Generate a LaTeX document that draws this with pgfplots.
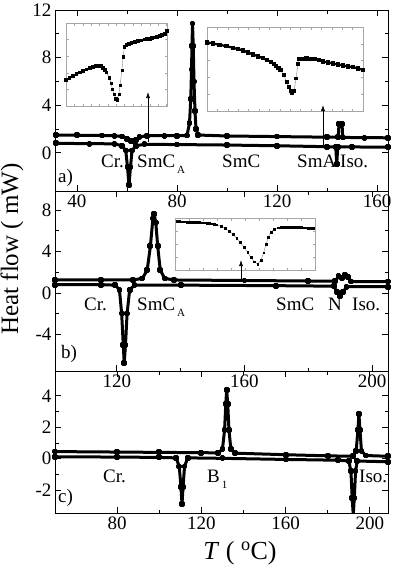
\documentclass[border=0pt]{standalone}
\usepackage{fontspec}
\setmainfont{Liberation Serif}
\usepackage{pgfplots}
\pgfplotsset{compat=1.18}
\usetikzlibrary{arrows.meta}

\newcommand\fs{\fontsize{19}{19}\selectfont}
\newcommand\sub[1]{\hspace{2pt}\raisebox{-6pt}{\fontsize{11}{11}\selectfont #1}}

\pgfplotsset{
  panel/.style={
    scale only axis, width=333pt, anchor=north west,
    axis line style={line width=1pt},
    tick style={black, line width=0.8pt},
    tick align=inside, major tick length=6pt, minor tick length=3.5pt,
    xtick pos=both, ytick pos=both,
    xticklabel pos=lower, yticklabel pos=left,
    minor x tick num=1, minor y tick num=1,
    tick label style={font=\fs},
    /pgf/number format/assume math mode=true,
  },
  curve/.style={black, line width=3pt, line join=round, mark=square*, mark size=1.4pt},
  inset/.style={
    scale only axis, anchor=north west, clip=false,
    xmin=0, xmax=1, ymin=0, ymax=1,
    axis line style={gray!70, line width=0.5pt},
    tick style={gray!70, line width=0.4pt},
    tick align=inside, major tick length=2.5pt,
    xtick pos=both, ytick pos=both,
    xticklabels={}, yticklabels={},
    ytick distance=0.2,
  },
  dense/.style={black, line width=1.5pt, mark=square*, mark size=1.1pt},
  sparse/.style={gray, line width=0.4pt, mark=square*, mark options={black}, mark size=1.1pt},
}

\begin{document}
\begin{tikzpicture}
\useasboundingbox (0pt,0pt) rectangle (392pt,-568pt);

% ---- panel a
\begin{axis}[panel, at={(55pt,-10pt)}, height=181pt,
  xmin=31.2, xmax=164.4, ymin=-3.2, ymax=12,
  xtick={40,80,120,160}, ytick={0,4,8,12}]
\addplot[curve] coordinates {(31.5,1.50) (40,1.48) (50,1.46) (55,1.44) (58,1.38) (60,1.2) (61.5,1.0) (62.5,0.95) (63.5,1.1) (65,1.35) (68,1.44) (75,1.45) (80,1.45) (84,1.46) (85,2.5) (85.5,4.5) (85.8,7) (86,9) (86.2,10.86) (86.5,9) (86.8,6) (87.2,3.5) (87.6,2) (88.5,1.5) (100,1.42) (120,1.37) (140,1.32) (144.5,1.32) (144.8,2.45) (146,2.45) (146.3,1.3) (155,1.28) (164.4,1.27)};
\addplot[curve] coordinates {(31.5,0.80) (45,0.78) (55,0.76) (58,0.6) (59.5,0.2) (60.2,-1.2) (60.8,-2.7) (61.4,-1.2) (62,0.2) (63.5,0.6) (67,0.72) (80,0.7) (100,0.66) (120,0.6) (140,0.52) (143.5,0.5) (143.9,-0.9) (144.3,0.5) (150,0.5) (164.4,0.48)};
\end{axis}

% ---- panel b
\begin{axis}[panel, at={(55pt,-191pt)}, height=180pt,
  xmin=100.6, xmax=205, ymin=-7.55, ymax=9.85,
  xtick={120,160,200}, ytick={-4,0,4,8}]
\addplot[curve] coordinates {(100.6,1.25) (115,1.25) (125,1.25) (128,1.4) (129.5,2.2) (130.5,4.5) (131.3,7.2) (131.7,7.6) (132.2,6.8) (132.8,4.5) (133.6,2.2) (135,1.4) (138,1.25) (160,1.2) (180,1.15) (188.5,1.15) (189.5,1.6) (190.5,1.45) (191.5,1.75) (192.5,1.55) (193.5,1.1) (205,1.1)};
\addplot[curve] coordinates {(100.6,0.8) (115,0.8) (119.5,0.75) (120.8,0.3) (121.5,-2) (122,-5) (122.3,-6.8) (122.7,-5) (123.2,-2) (124,0.3) (125.5,0.75) (140,0.75) (170,0.7) (188,0.65) (189,0.1) (190,-0.3) (191,0.1) (192,0.6) (205,0.6)};
\end{axis}

% ---- panel c
\begin{axis}[panel, at={(55pt,-371pt)}, height=142pt,
  xmin=50.5, xmax=208.6, ymin=-3.46, ymax=5.58,
  xtick={80,120,160,200}, ytick={-2,0,2,4}]
\addplot[curve] coordinates {(50.5,0.45) (80,0.42) (100,0.4) (120,0.38) (128,0.37) (130,0.6) (131,1.8) (131.6,3.5) (132,4.36) (132.5,3.5) (133.1,1.8) (134,0.6) (136,0.35) (160,0.25) (180,0.18) (192,0.15) (193.5,0.5) (194.3,1.8) (194.8,2.84) (195.3,1.8) (196,0.5) (198,0.2) (208.6,0.15)};
\addplot[curve] coordinates {(50.5,0.12) (80,0.1) (100,0.08) (108,0.05) (109.5,-0.5) (110.3,-1.8) (110.8,-2.89) (111.3,-1.8) (112,-0.5) (113.5,0.05) (130,0.02) (160,-0.05) (185,-0.1) (190,-0.15) (191,-0.8) (191.6,-2.5) (192.1,-3.6) (192.6,-2.5) (193.2,-0.8) (194,-0.15) (208.6,-0.2)};
\end{axis}

% ---- insets
\begin{axis}[inset, at={(66pt,-23pt)}, width=101pt, height=83pt, xtick distance=0.083]
\addplot[dense] coordinates {(0,0.312) (0.036,0.335) (0.072,0.360) (0.105,0.383) (0.138,0.405) (0.171,0.424) (0.204,0.441) (0.237,0.455) (0.270,0.466) (0.300,0.478) (0.329,0.486) (0.350,0.478) (0.368,0.462) (0.386,0.436) (0.401,0.405)};
\addplot[sparse] coordinates {(0.401,0.405) (0.428,0.340) (0.447,0.271) (0.461,0.202) (0.477,0.138) (0.493,0.089) (0.507,0.077) (0.523,0.138) (0.536,0.251) (0.553,0.433) (0.566,0.595) (0.579,0.713)};
\addplot[dense] coordinates {(0.579,0.713) (0.599,0.737) (0.624,0.750) (0.648,0.761) (0.681,0.772) (0.714,0.785) (0.747,0.790) (0.780,0.802) (0.805,0.806) (0.829,0.810) (0.854,0.818) (0.878,0.826) (0.903,0.834) (0.928,0.842) (0.952,0.852) (0.977,0.866) (1.0,0.907)};
\end{axis}

\begin{axis}[inset, at={(207pt,-27pt)}, width=156pt, height=84pt, xtick distance=0.0667]
\addplot[dense, line width=2.2pt] coordinates {(0,0.817) (0.040,0.803) (0.081,0.789) (0.124,0.771) (0.167,0.753) (0.199,0.737) (0.231,0.721) (0.263,0.697) (0.295,0.673) (0.327,0.651) (0.359,0.629) (0.386,0.606) (0.412,0.582) (0.428,0.560) (0.444,0.538) (0.458,0.514) (0.470,0.490)};
\addplot[sparse, mark size=1.4pt] coordinates {(0.470,0.490) (0.491,0.430) (0.509,0.351) (0.524,0.291) (0.534,0.243) (0.545,0.211) (0.558,0.243) (0.571,0.390) (0.583,0.562) (0.594,0.618)};
\addplot[dense, line width=2.2pt] coordinates {(0.594,0.618) (0.615,0.622) (0.637,0.625) (0.663,0.622) (0.690,0.618) (0.717,0.604) (0.744,0.590) (0.776,0.578) (0.808,0.566) (0.840,0.554) (0.872,0.542) (0.904,0.532) (0.936,0.522) (0.968,0.506) (1.0,0.490)};
\end{axis}

\begin{axis}[inset, at={(175pt,-218pt)}, width=140pt, height=52pt, xtick distance=0.1, ytick distance=0.25]
\addplot[sparse, mark size=0.9pt] coordinates {(0.012,0.936) (0.030,0.933) (0.048,0.930) (0.065,0.928) (0.083,0.927) (0.101,0.925) (0.119,0.924) (0.137,0.920) (0.155,0.917) (0.173,0.914) (0.190,0.911) (0.208,0.908) (0.226,0.904) (0.244,0.898) (0.262,0.892) (0.280,0.883) (0.298,0.873) (0.329,0.841) (0.357,0.803) (0.386,0.752) (0.414,0.688) (0.440,0.611) (0.467,0.529) (0.493,0.439) (0.519,0.338) (0.543,0.242) (0.567,0.159) (0.590,0.115) (0.614,0.191) (0.633,0.331) (0.650,0.490) (0.667,0.637) (0.686,0.732) (0.710,0.790) (0.738,0.815) (0.756,0.820) (0.774,0.822) (0.792,0.822) (0.810,0.822) (0.828,0.822) (0.845,0.822) (0.863,0.822) (0.881,0.822) (0.899,0.819) (0.917,0.815) (0.935,0.812) (0.952,0.809) (0.970,0.806) (0.988,0.803)};
\end{axis}

% ---- arrows
\draw[line width=0.6pt, -{Latex[length=6pt,width=4pt]}] (148pt,-142pt) -- (148pt,-92pt);
\draw[line width=0.6pt, -{Latex[length=6pt,width=4pt]}] (323pt,-147pt) -- (323pt,-105pt);
\draw[line width=0.6pt, -{Latex[length=6pt,width=4pt]}] (241pt,-279pt) -- (241pt,-260pt);

% ---- phase labels
\begin{scope}[every node/.style={anchor=base west, inner sep=0pt, font=\fs}]
\node at (101pt,-167pt) {Cr.};
\node at (137pt,-167pt) {SmC\sub{A}};
\node at (222pt,-167pt) {SmC};
\node at (297pt,-167pt) {SmA};
\node at (340pt,-167pt) {Iso.};
\node at (58pt,-182pt) {a)};

\node at (84pt,-310pt) {Cr.};
\node at (137pt,-310pt) {SmC\sub{A}};
\node at (276pt,-310pt) {SmC};
\node at (328pt,-310pt) {N};
\node at (352pt,-310pt) {Iso.};
\node at (61pt,-358pt) {b)};

\node at (103pt,-482pt) {Cr.};
\node at (207pt,-482pt) {B\sub{1}};
\node at (359pt,-482pt) {Iso.};
\node at (58pt,-502pt) {c)};
\end{scope}

% ---- axis titles
\node[rotate=90, font=\fontsize{25}{25}\selectfont] at (12pt,-249pt) {Heat flow ( mW)};
\node[font=\fontsize{26}{26}\selectfont] at (240pt,-553pt) {\textit{T} ( \textsuperscript{o}C)};
\end{tikzpicture}
\end{document}
